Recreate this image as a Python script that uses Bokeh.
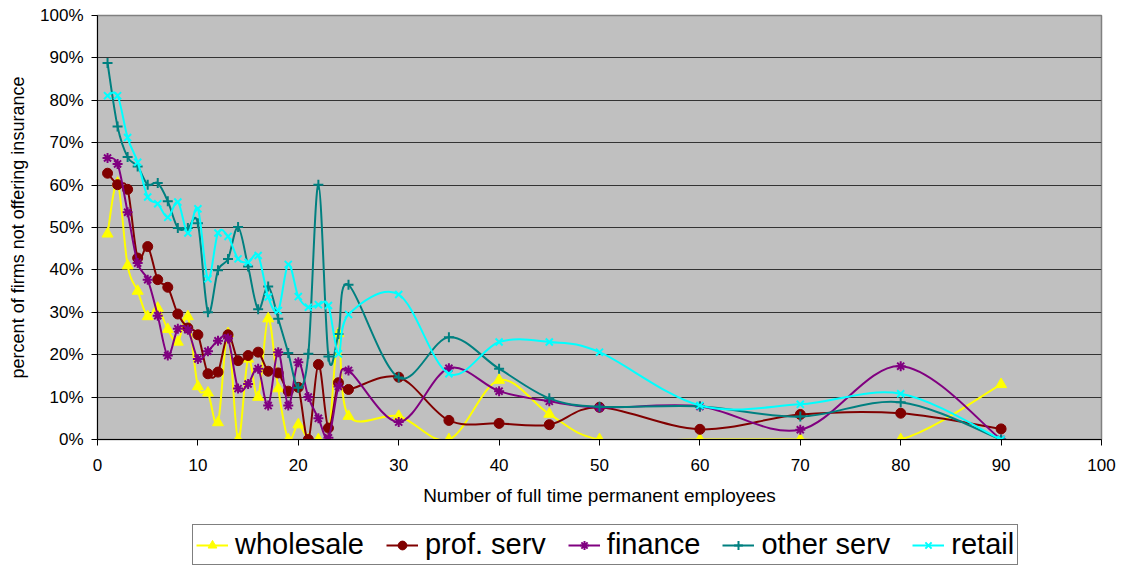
from bokeh.plotting import figure
from bokeh.layouts import column
from bokeh.models import Legend, LegendItem, FixedTicker, PrintfTickFormatter, Range1d
from bokeh.embed import file_html
from bokeh.resources import INLINE

# ---------------- data ----------------
employees = [1, 2, 3, 4, 5, 6, 7, 8, 9, 10, 11, 12, 13, 14, 15, 16, 17, 18, 19, 20,
             21, 22, 23, 24, 25, 30, 35, 40, 45, 50, 60, 70, 80, 90]

wholesale = [48.5, 60.5, 41, 35, 29, 31, 26, 23, 29, 12.5, 11, 4, 25, 0, 19, 10, 28.5, 12, 0, 3.5,
             0, 0, 0, 25, 5.5, 5.5, 0, 14, 6, 0, 0, 0, 0, 13]
prof_serv = [62.8, 60.1, 59, 42.8, 45.5, 37.7, 35.9, 29.6, 26.3, 24.7, 15.5, 15.9, 24.7, 18.6, 19.8, 20.6, 16.1, 15.7, 11.4, 12.3,
             0, 17.7, 2.7, 13.4, 11.8, 14.7, 4.5, 3.8, 3.5, 7.6, 2.4, 5.9, 6.2, 2.5]
finance = [66.4, 65, 53.6, 41.6, 37.7, 29.2, 19.8, 26.1, 25.9, 19, 20.8, 23.3, 23.8, 12, 13.1, 16.7, 8, 20.6, 8, 18.2,
           10, 5, 0.4, 12.5, 16.3, 4.1, 16.8, 11.4, 9, 7.5, 7.8, 2.3, 17.3, 0]
other_serv = [88.8, 73.8, 66.6, 64.4, 60.1, 60.5, 56.2, 49.9, 49.9, 51, 30, 39.9, 42.6, 50.1, 40.8, 30.7, 36.1, 28.5, 20.4, 12.2,
              20.2, 60.1, 19.6, 24.9, 36.5, 14.6, 24.1, 16.7, 9.7, 7.7, 7.8, 5.4, 8.8, 0]
retail = [81.1, 81.1, 71.2, 65.4, 57.2, 55.6, 52.4, 56, 48.7, 54.4, 37.9, 48.7, 47.9, 42.6, 41.8, 43.4, 33.6, 30.4, 41.3, 33.7,
          31.2, 31.8, 31.6, 20.2, 29.5, 34.2, 15.5, 23, 23, 20.6, 8, 8.3, 10.8, 0]

series_names = ["wholesale", "prof. serv", "finance", "other serv", "retail"]
series_values = [wholesale, prof_serv, finance, other_serv, retail]
series_colors = ["#FFFF00", "#800000", "#800080", "#008080", "#00FFFF"]
series_markers = ["triangle", "circle", "asterisk", "cross", "x"]

x_ticks = list(range(0, 101, 10))
y_ticks = list(range(0, 101, 10))

FONT = "Liberation Sans"


def smooth_segments(xs, ys, t=1.0 / 6.0):
    """Bezier control points (Catmull-Rom style smoothing, like Excel's smoothed line)."""
    n = len(xs)
    x0, y0, x1, y1, cx0, cy0, cx1, cy1 = [], [], [], [], [], [], [], []
    for i in range(n - 1):
        pxm, pym = (xs[i - 1], ys[i - 1]) if i > 0 else (xs[i], ys[i])
        px0, py0 = xs[i], ys[i]
        px1, py1 = xs[i + 1], ys[i + 1]
        pxp, pyp = (xs[i + 2], ys[i + 2]) if i + 2 < n else (xs[i + 1], ys[i + 1])
        x0.append(px0); y0.append(py0); x1.append(px1); y1.append(py1)
        cx0.append(px0 + (px1 - pxm) * t); cy0.append(py0 + (py1 - pym) * t)
        cx1.append(px1 - (pxp - px0) * t); cy1.append(py1 - (pyp - py0) * t)
    return dict(x0=x0, y0=y0, x1=x1, y1=y1, cx0=cx0, cy0=cy0, cx1=cx1, cy1=cy1)


# ---------------- main chart ----------------
p = figure(width=1122, height=512, output_backend="svg", toolbar_location=None,
           x_range=Range1d(0, 100), y_range=Range1d(0, 100),
           min_border_left=97, min_border_right=21, min_border_top=15, min_border_bottom=73)

p.background_fill_color = "#C0C0C0"
p.border_fill_color = "white"
p.outline_line_color = "#808080"
p.outline_line_width = 1.5

p.xgrid.grid_line_color = None
p.ygrid.grid_line_color = "#333333"
p.ygrid.grid_line_width = 1
p.ygrid.ticker = FixedTicker(ticks=y_ticks)

for ax in (p.xaxis[0], p.yaxis[0]):
    ax.axis_line_color = "black"
    ax.axis_line_width = 1
    ax.major_tick_in = 0
    ax.major_tick_out = 6
    ax.major_tick_line_color = "black"
    ax.minor_tick_line_color = None
    ax.major_label_text_font = FONT
    ax.major_label_text_font_size = "17px"
    ax.major_label_text_color = "black"
    ax.axis_label_text_font = FONT
    ax.axis_label_text_font_style = "normal"
    ax.axis_label_text_color = "black"

p.xaxis.ticker = FixedTicker(ticks=x_ticks)
p.yaxis.ticker = FixedTicker(ticks=y_ticks)
p.yaxis.formatter = PrintfTickFormatter(format="%d%%")
p.xaxis.major_label_standoff = 13
p.yaxis.major_label_standoff = 8
p.xaxis.axis_label = "Number of full time permanent employees"
p.yaxis.axis_label = "percent of firms not offering insurance"
p.xaxis.axis_label_text_font_size = "19px"
p.yaxis.axis_label_text_font_size = "18px"
p.xaxis.axis_label_standoff = 11
p.yaxis.axis_label_standoff = 9

# ---------------- legend strip ----------------
lg = figure(width=1122, height=55, output_backend="svg", toolbar_location=None,
            x_range=Range1d(0, 1), y_range=Range1d(0, 1),
            x_axis_type=None, y_axis_type=None,
            min_border_left=0, min_border_right=0, min_border_top=0, min_border_bottom=0)
lg.outline_line_color = None
lg.background_fill_color = "white"
lg.border_fill_color = "white"
lg.xgrid.grid_line_color = None
lg.ygrid.grid_line_color = None

items = []
for name, vals, color, marker in zip(series_names, series_values, series_colors, series_markers):
    seg = smooth_segments(employees, vals)
    p.bezier(x0="x0", y0="y0", x1="x1", y1="y1", cx0="cx0", cy0="cy0", cx1="cx1", cy1="cy1",
             source=seg, line_color=color, line_width=2)
    if marker in ("triangle", "circle"):
        mk = dict(marker=marker, size=10 if marker == "circle" else 11,
                  fill_color=color, line_color=color, line_width=1)
    else:
        mk = dict(marker=marker, size=10, fill_color=None, line_color=color, line_width=2)
    p.scatter(employees, vals, **mk)
    # legend key renderers: placed off-range in the strip, only their style shows in the key
    k_line = lg.line(x=[-5, -4], y=[-5, -5], line_color=color, line_width=2)
    k_mark = lg.scatter(x=[-5], y=[-5], **dict(mk, size=8))
    items.append(LegendItem(label=name, renderers=[k_line, k_mark]))

legend = Legend(items=items, orientation="horizontal", location=(95, 2),
                label_text_font=FONT, label_text_font_size="29px", label_text_color="black",
                glyph_width=32, glyph_height=22, label_standoff=7, spacing=22,
                padding=3, margin=0,
                border_line_color="black", border_line_width=1,
                background_fill_color="white", background_fill_alpha=1)
lg.add_layout(legend, "center")

layout = column(p, lg, spacing=0)
open("out.html", "w").write(file_html(layout, INLINE))
